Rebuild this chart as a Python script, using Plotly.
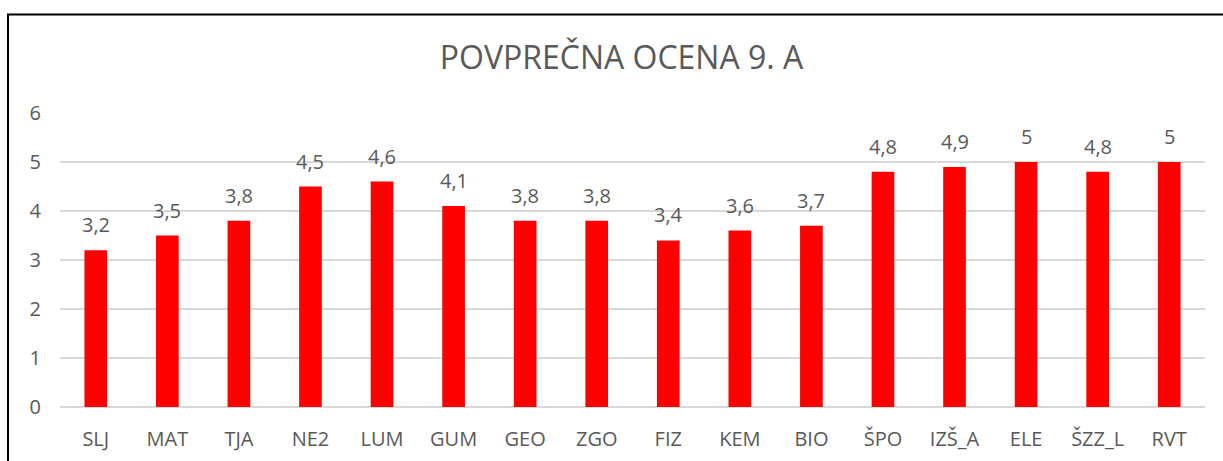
import plotly.graph_objects as go

categories = ["SLJ", "MAT", "TJA", "NE2", "LUM", "GUM", "GEO", "ZGO", "FIZ", "KEM",
              "BIO", "ŠPO", "IZŠ_A", "ELE", "ŠZZ_L", "RVT"]
values = [3.2, 3.5, 3.8, 4.5, 4.6, 4.1, 3.8, 3.8, 3.4, 3.6, 3.7, 4.8, 4.9, 5, 4.8, 5]
y_ticks = [0, 1, 2, 3, 4, 5, 6]
title_text = "POVPREČNA OCENA 9. A"

labels = [f"{v:g}".replace(".", ",") for v in values]

W, H = 1223, 461
ml, mr, mt, mb = 60, 18, 113, 54
FONT = "Open Sans"
GREY = "#595959"

fig = go.Figure()
fig.add_trace(go.Bar(
    x=categories, y=values,
    marker=dict(color="#ff0000", line=dict(width=0)),
    width=0.317,
    hoverinfo="x+y",
))

for c, v, t in zip(categories, values, labels):
    fig.add_annotation(x=c, y=v, text=t, showarrow=False, yanchor="bottom",
                       yshift=10, font=dict(family=FONT, size=20, color=GREY))

pw = W - ml - mr
ph = H - mt - mb
# chart border (left + top visible, right/bottom outside the view)
fig.add_shape(type="rect", xref="paper", yref="paper",
              x0=(8 - ml) / pw, x1=(W + 20 - ml) / pw,
              y0=-(H + 20 - (H - mb)) / ph, y1=(H - mb - 14.5) / ph,
              line=dict(color="black", width=2), fillcolor="rgba(0,0,0,0)", layer="above")

fig.update_layout(
    width=W, height=H,
    margin=dict(l=ml, r=mr, t=mt, b=mb, autoexpand=False),
    paper_bgcolor="white", plot_bgcolor="white",
    showlegend=False,
    bargap=0.683,
    title=dict(text=title_text, x=621.5 / W, xanchor="center",
               y=1 - 57.5 / H, yanchor="middle", yref="container",
               font=dict(family=FONT, size=32, color=GREY)),
    font=dict(family=FONT, size=20, color=GREY),
    xaxis=dict(showgrid=False, showline=False, ticks="", zeroline=False, automargin=False,
               tickfont=dict(family=FONT, size=20, color=GREY),
               ticklabelstandoff=18),
    yaxis=dict(range=[0, 6], tickvals=y_ticks, showgrid=True, gridcolor="#d9d9d9",
               gridwidth=1.5, zeroline=True, zerolinecolor="#d9d9d9", zerolinewidth=1.5,
               automargin=False,
               showline=False, ticks="", tickfont=dict(family=FONT, size=20, color=GREY),
               ticklabelstandoff=18),
)

fig.write_html("out.html", config={"displayModeBar": False},
               post_script="document.body.style.margin='0';document.body.style.overflow='hidden';")
